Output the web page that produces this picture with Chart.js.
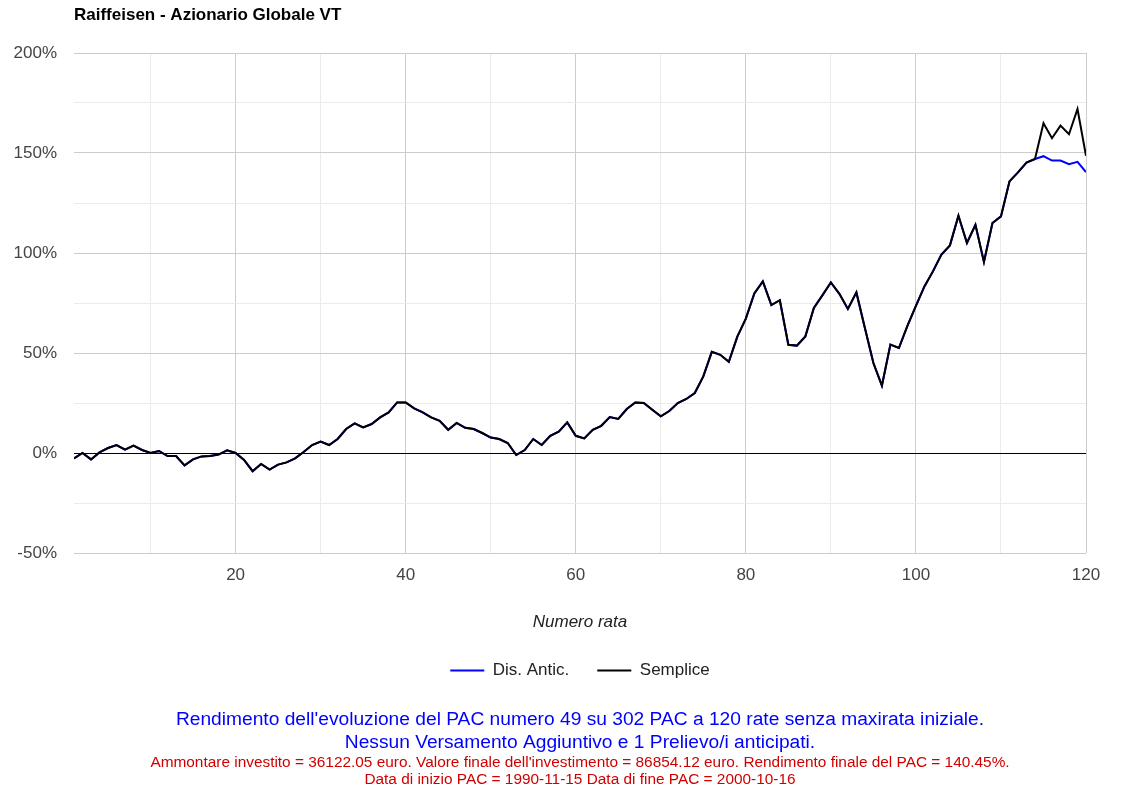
<!DOCTYPE html>
<html><head><meta charset="utf-8">
<script src="https://cdn.jsdelivr.net/npm/chart.js@4.4.1/dist/chart.umd.min.js"></script>
<style>html,body{margin:0;padding:0;background:#fff;} canvas{display:block}</style>
</head><body>
<canvas id="c" width="1126" height="797"></canvas>
<script>
const chartTitle = "Raiffeisen - Azionario Globale VT";
const xAxisTitle = "Numero rata";
const seriesNames = ["Dis. Antic.", "Semplice"];
const rate = [1,2,3,4,5,6,7,8,9,10,11,12,13,14,15,16,17,18,19,20,21,22,23,24,25,26,27,28,29,30,
31,32,33,34,35,36,37,38,39,40,41,42,43,44,45,46,47,48,49,50,51,52,53,54,55,56,57,58,59,60,
61,62,63,64,65,66,67,68,69,70,71,72,73,74,75,76,77,78,79,80,81,82,83,84,85,86,87,88,89,90,
91,92,93,94,95,96,97,98,99,100,101,102,103,104,105,106,107,108,109,110,111,112,113,114,115,116,117,118,119,120];
const semplice = [-2.7,0,-3.2,0.3,2.5,4,1.7,3.7,1.5,0,1,-1.5,-1.5,-6.2,-3.2,-1.7,-1.5,-0.8,1.3,0,
-3.5,-9.1,-5.5,-8.3,-5.8,-4.7,-2.7,0.5,4,5.7,4,7,12,14.8,12.8,14.5,17.8,20.3,25.3,25.3,
22.3,20.3,17.8,16.1,11.6,15,12.6,12,10,7.7,7,5,-1,1.5,7,4,8.6,10.7,15.3,8.6,
7.3,11.6,13.6,18,17,22,25.3,25,21.6,18.3,21,25,27,30,38.3,50.6,49.1,45.6,58.2,67.2,
79.8,85.8,74,76.4,54.1,53.7,58.3,72.5,78.8,85.3,79.6,72,80.3,62.5,45,33.7,54.2,52.5,63.6,73.6,
83.3,90.8,99.2,103.8,118.6,105,114.1,95.5,115,118.3,135.8,140.3,145.2,147,164.9,157.4,163.7,159.4,172,148.6];
const disAntic = [-2.7,0,-3.2,0.3,2.5,4,1.7,3.7,1.5,0,1,-1.5,-1.5,-6.2,-3.2,-1.7,-1.5,-0.8,1.3,0,
-3.5,-9.1,-5.5,-8.3,-5.8,-4.7,-2.7,0.5,4,5.7,4,7,12,14.8,12.8,14.5,17.8,20.3,25.3,25.3,
22.3,20.3,17.8,16.1,11.6,15,12.6,12,10,7.7,7,5,-1,1.5,7,4,8.6,10.7,15.3,8.6,
7.3,11.6,13.6,18,17,22,25.3,25,21.6,18.3,21,25,27,30,38.3,50.6,49.1,45.6,58.2,67.2,
79.8,85.8,74,76.4,54.1,53.7,58.3,72.5,78.8,85.3,79.6,72,80.3,62.5,45,33.7,54.2,52.5,63.6,73.6,
83.3,90.8,99.2,103.8,118.6,105,114.1,95.5,115,118.3,135.8,140.3,145.2,147,148.4,146.2,146.2,144.4,145.6,140.45];
const xTickLabels = [20,40,60,80,100,120];
const yTickLabels = [-50,0,50,100,150,200];
const footerBlue = [
  "Rendimento dell'evoluzione del PAC numero 49 su 302 PAC a 120 rate senza maxirata iniziale.",
  "Nessun Versamento Aggiuntivo e 1 Prelievo/i anticipati."
];
const footerRed = [
  "Ammontare investito = 36122.05 euro. Valore finale dell'investimento = 86854.12 euro. Rendimento finale del PAC = 140.45%.",
  "Data di inizio PAC = 1990-11-15 Data di fine PAC = 2000-10-16"
];

const FONT = "Arial, 'Liberation Sans', sans-serif";

const textPlugin = {
  id: 'texts',
  beforeDatasetsDraw(chart) {
    const ctx = chart.ctx, y = chart.scales.y, a = chart.chartArea;
    const py = Math.round(y.getPixelForValue(0)) + 0.5;
    ctx.save();
    ctx.strokeStyle = '#000'; ctx.lineWidth = 1;
    ctx.beginPath(); ctx.moveTo(a.left, py); ctx.lineTo(a.right, py); ctx.stroke();
    ctx.restore();
  },
  afterDraw(chart) {
    const ctx = chart.ctx, a = chart.chartArea;
    const cx = (a.left + a.right) / 2;
    ctx.save();
    ctx.textBaseline = 'middle';
    ctx.textAlign = 'left';
    ctx.fillStyle = '#000';
    ctx.font = "bold 17px " + FONT;
    ctx.fillText(chartTitle, a.left, 15);
    ctx.textAlign = 'center';
    ctx.fillStyle = '#0000ff';
    ctx.font = "19.2px " + FONT;
    ctx.fillText(footerBlue[0], cx, 720);
    ctx.fillText(footerBlue[1], cx, 743);
    ctx.fillStyle = '#d00000';
    ctx.font = "15.4px " + FONT;
    ctx.fillText(footerRed[0], cx, 763);
    ctx.fillText(footerRed[1], cx, 780);
    ctx.restore();
  }
};

new Chart(document.getElementById('c'), {
  type: 'line',
  data: {
    datasets: [
      { label: seriesNames[0], data: rate.map((r, i) => ({x: r, y: disAntic[i]})),
        borderColor: '#0000ff', backgroundColor: '#0000ff', borderWidth: 2, pointRadius: 0, tension: 0, order: 1 },
      { label: seriesNames[1], data: rate.map((r, i) => ({x: r, y: semplice[i]})),
        borderColor: '#000000', backgroundColor: '#000000', borderWidth: 2, pointRadius: 0, tension: 0, order: 0 }
    ]
  },
  options: {
    responsive: false,
    animation: false,
    layout: { padding: { top: 53, left: 0, right: 40, bottom: 108 } },
    plugins: {
      title: { display: false },
      tooltip: { enabled: false },
      legend: {
        position: 'bottom',
        fullSize: false,
        labels: {
          usePointStyle: true, pointStyle: 'line', pointStyleWidth: 34,
          padding: 28, color: '#222', font: { family: FONT, size: 17 },
          sort: (a, b) => a.datasetIndex - b.datasetIndex
        }
      }
    },
    scales: {
      x: {
        type: 'linear', min: 1, max: 120,
        afterFit(s) { s.height = 81; },
        border: { display: false },
        grid: { drawTicks: false, color: c => (xTickLabels.includes(c.tick.value) ? '#cccccc' : '#ebebeb') },
        ticks: { stepSize: 10, includeBounds: false, autoSkip: false, maxRotation: 0, padding: 12,
          color: '#444', font: { family: FONT, size: 17 },
          callback: v => (xTickLabels.includes(v) ? String(v) : '') },
        title: { display: true, text: xAxisTitle, color: '#222', padding: { top: 4, bottom: 2 },
          font: { family: FONT, size: 17, style: 'italic' } }
      },
      y: {
        min: -50, max: 200,
        afterFit(s) { s.width = 74; },
        border: { display: false },
        grid: { drawTicks: false, color: c => (yTickLabels.includes(c.tick.value) ? '#cccccc' : '#ebebeb') },
        ticks: { stepSize: 25, autoSkip: false, padding: 17, color: '#444', font: { family: FONT, size: 17 },
          callback: v => (yTickLabels.includes(v) ? v + '%' : '') }
      }
    }
  },
  plugins: [textPlugin]
});
</script>
</body></html>
